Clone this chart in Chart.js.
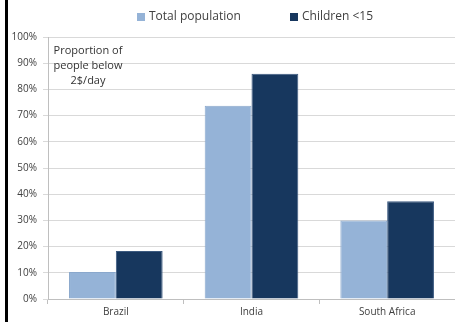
<!DOCTYPE html>
<html>
<head>
<meta charset="utf-8">
<script src="https://cdn.jsdelivr.net/npm/chart.js@4"></script>
<style>
html,body{margin:0;padding:0;background:#fff;}
#wrap{position:relative;width:455px;height:322px;}
#bar{position:absolute;left:5px;top:0;width:3px;height:322px;background:#000;}
canvas{position:absolute;left:0;top:0;}
</style>
</head>
<body>
<div id="wrap"><canvas id="c" width="455" height="322"></canvas><div id="bar"></div></div>
<script>
const categories = ["Brazil", "India", "South Africa"];
const totalPopulation = [0.103, 0.738, 0.30];
const children = [0.183, 0.86, 0.373];
const seriesNames = ["Total population", "Children <15"];
const annotationLines = ["Proportion of", "people below", "2$/day"];

const FONT = "'Open Sans', 'Liberation Sans', sans-serif";

const annotate = {
  id: 'annotate',
  afterDraw(chart) {
    const ctx = chart.ctx;
    const a = chart.chartArea;
    ctx.save();
    ctx.font = "11px " + FONT;
    ctx.fillStyle = "#333333";
    ctx.textAlign = "center";
    ctx.textBaseline = "middle";
    annotationLines.forEach((t, i) => ctx.fillText(t, a.left + 40, a.top + 14 + i * 15));
    // legend
    ctx.font = "12px " + FONT;
    ctx.textAlign = "left";
    const starts = [137, 290];
    chart.data.datasets.forEach((d, i) => {
      const x = starts[i];
      ctx.fillStyle = d.backgroundColor;
      ctx.fillRect(x, 13, 8, 8);
      ctx.fillStyle = "#404040";
      ctx.fillText(d.label, x + 12, 17);
    });
    ctx.restore();
  }
};

new Chart(document.getElementById('c'), {
  type: 'bar',
  data: {
    labels: categories,
    datasets: [
      { label: seriesNames[0], data: totalPopulation, backgroundColor: '#95B3D7', borderColor: '#8aa8cc', borderWidth: 1 },
      { label: seriesNames[1], data: children, backgroundColor: '#17375E', borderColor: '#3c5a80', borderWidth: 1 }
    ]
  },
  options: {
    responsive: false,
    animation: false,
    devicePixelRatio: 1,
    layout: { padding: { left: 0, right: 0, top: 37, bottom: 2 } },
    datasets: { bar: { categoryPercentage: 0.69, barPercentage: 1.0 } },
    plugins: {
      legend: { display: false },
      tooltip: { enabled: false }
    },
    scales: {
      x: {
        grid: { drawOnChartArea: false, drawTicks: true, tickLength: 5, color: '#bfbfbf' },
        border: { color: '#bfbfbf' },
        ticks: { font: { family: FONT, size: 10 }, color: '#404040', padding: 2 }
      },
      y: {
        min: 0, max: 1,
        afterFit(s) { s.width = 48; },
        grid: { color: '#d9d9d9', tickLength: 5 },
        border: { color: '#bfbfbf' },
        ticks: {
          stepSize: 0.1,
          font: { family: FONT, size: 10 }, color: '#404040', padding: 6,
          callback: v => Math.round(v * 100) + '%'
        }
      }
    }
  },
  plugins: [annotate]
});
</script>
</body>
</html>
